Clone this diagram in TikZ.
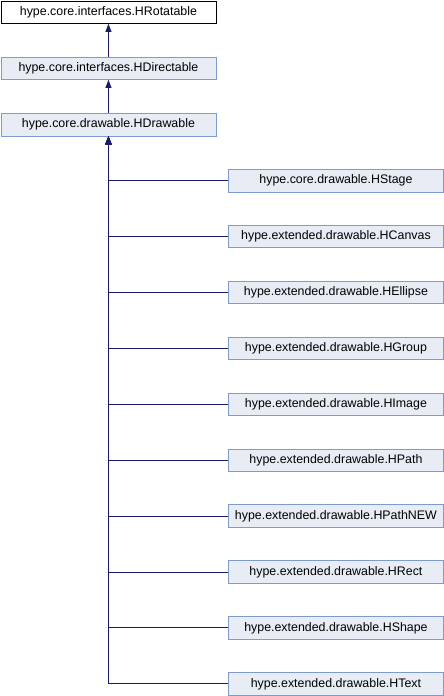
\documentclass[tikz,border=0pt]{standalone}
\usepackage{fontspec}
\setmainfont{Liberation Sans}
\usetikzlibrary{arrows.meta}
\definecolor{edgeblue}{HTML}{191970}
\definecolor{boxfill}{HTML}{E8ECF5}
\definecolor{boxline}{HTML}{7E9BCF}
\begin{document}
\begin{tikzpicture}[x=1pt,y=-1pt,
  cls/.style={draw=boxline,fill=boxfill,line width=0.9pt,minimum width=215pt,minimum height=22.5pt,inner sep=0pt,font=\fontsize{12.4pt}{14pt}\selectfont,anchor=north west},
  top/.style={cls,draw=black,fill=white},
  edge/.style={draw=edgeblue,line width=1pt,-{Triangle[length=8pt,width=6pt]}}]
\useasboundingbox (0,0) rectangle (444,696);
\node[top] (rot) at (0.5,0.5) {hype.core.interfaces.HRotatable};
\node[cls] (dir) at (0.5,56.5) {hype.core.interfaces.HDirectable};
\node[cls] (drw) at (0.5,113) {hype.core.drawable.HDrawable};
\foreach \n/\t [count=\i from 0] in {stage/hype.core.drawable.HStage,
  canvas/hype.extended.drawable.HCanvas,
  ellipse/hype.extended.drawable.HEllipse,
  group/hype.extended.drawable.HGroup,
  image/hype.extended.drawable.HImage,
  path/hype.extended.drawable.HPath,
  pathnew/hype.extended.drawable.HPathNEW,
  rect/hype.extended.drawable.HRect,
  shape/hype.extended.drawable.HShape,
  text/hype.extended.drawable.HText}{
  \node[cls] (\n) at (228,169+55.9*\i) {\t};
}
\draw[edge] (dir.north) -- (rot.south);
\draw[edge] (drw.north) -- (dir.south);
\foreach \n in {stage,canvas,ellipse,group,image,path,pathnew,rect,shape,text}{
  \draw[edge] (\n.west) -| (drw.south);
}
\end{tikzpicture}
\end{document}
